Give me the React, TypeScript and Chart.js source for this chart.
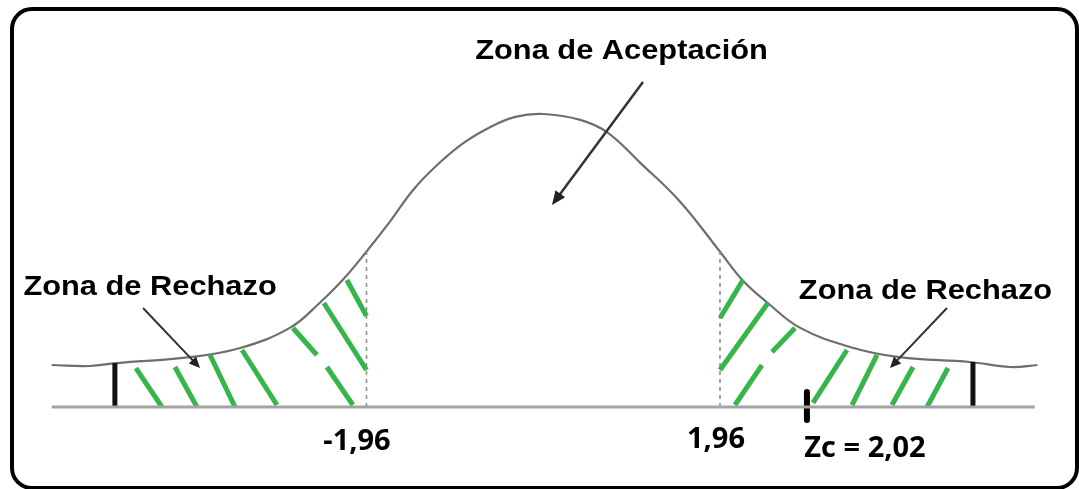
import React, { useEffect, useRef } from "react";
import { Chart, registerables } from "chart.js";

Chart.register(...registerables);

// Bell curve: [z, height]
const curveZ = [-5.45, -5.03, -4.73, -3.92, -3.36, -2.81, -2.48, -2.22, -1.955, -1.7, -1.445, -1.18, -0.89, -0.59, -0.31, 0, 0.41, 0.71, 1.07, 1.52, 1.96, 2.21, 2.49, 2.85, 3.4, 3.95, 4.73, 5.18, 5.48];
const curveY = [0.0573, 0.056, 0.06, 0.068, 0.0805, 0.108, 0.142, 0.174, 0.213, 0.253, 0.296, 0.33, 0.36, 0.382, 0.396, 0.4, 0.392, 0.375, 0.334, 0.28, 0.212, 0.173, 0.142, 0.108, 0.082, 0.068, 0.0614, 0.0546, 0.0573];

// Axis extent
const axisRange = [-5.45, 5.45];

// Critical values and their heights on the curve
const criticalZ = [-1.96, 1.96];
const criticalLabels = ["-1,96", "1,96"];
const criticalTop = [0.213, 0.212];

// Tail limit bars [z, top]
const tailBars = [
  [-4.75, 0.06],
  [4.765, 0.0614],
];

// Zc marker (diagram position) and label
const zcPos = 2.924;
const zcLabel = "Zc = 2,02";

// Hatch segments [z1, y1, z2, y2]
const leftHatch = [
  [-4.517, 0.0532, -4.228, 0],
  [-4.084, 0.0546, -3.84, 0],
  [-3.695, 0.071, -3.418, 0],
  [-3.34, 0.0778, -2.953, 0.0027],
  [-2.776, 0.1078, -2.51, 0.071],
  [-2.399, 0.0546, -2.111, 0.0027],
  [-2.433, 0.142, -1.96, 0.0505],
  [-2.178, 0.1734, -1.96, 0.1242],
];
const rightHatch = [
  [1.96, 0.1215, 2.215, 0.1734],
  [1.96, 0.0505, 2.492, 0.142],
  [2.537, 0.0751, 2.792, 0.1078],
  [2.126, 0.0027, 2.425, 0.0573],
  [2.991, 0.0055, 3.368, 0.0778],
  [3.424, 0.0027, 3.701, 0.071],
  [3.867, 0.0027, 4.1, 0.0546],
  [4.256, 0, 4.488, 0.0532],
];

// Annotations: arrows [fromZ, fromY, toZ, toY]
const arrows = [
  [1.106, 0.4437, 0.097, 0.2758],
  [-4.438, 0.1352, -3.806, 0.0532],
  [4.477, 0.1352, 3.845, 0.0532],
];
const zoneTitles = ["Zona de Aceptación", "Zona de Rechazo", "Zona de Rechazo"];
const zoneTitlePos = [
  [0.868, 0.4751],
  [-4.36, 0.1529],
  [4.239, 0.1474],
];
const numberLabelPos = [
  [-2.065, -0.0587],
  [1.916, -0.056],
  [3.568, -0.0683],
];

const X_MIN = -6.024;
const X_MAX = 5.941;
const Y_MIN = -0.11195;
const Y_MAX = 0.55563;

function seg(a: number[], color: string, width: number, extra: any = {}) {
  return {
    data: [
      { x: a[0], y: a[1] },
      { x: a[2], y: a[3] },
    ],
    showLine: true,
    borderColor: color,
    borderWidth: width,
    pointRadius: 0,
    ...extra,
  };
}

const diagramPlugin = {
  id: "diagram",
  afterDatasetsDraw(chart: any) {
    const ctx: CanvasRenderingContext2D = chart.ctx;
    const xs = chart.scales.x;
    const ys = chart.scales.y;
    const px = (v: number) => xs.getPixelForValue(v);
    const py = (v: number) => ys.getPixelForValue(v);

    // frame
    ctx.save();
    ctx.strokeStyle = "#000";
    ctx.lineWidth = 4;
    ctx.beginPath();
    ctx.roundRect(12, 9, 1065, 479, 20);
    ctx.stroke();
    ctx.restore();

    // arrows
    arrows.forEach((a, i) => {
      const x1 = px(a[0]), y1 = py(a[1]), x2 = px(a[2]), y2 = py(a[3]);
      const ang = Math.atan2(y2 - y1, x2 - x1);
      const hl = i === 0 ? 14 : 11;
      const hw = i === 0 ? 6 : 5;
      ctx.save();
      ctx.strokeStyle = "#333";
      ctx.fillStyle = "#222";
      ctx.lineWidth = i === 0 ? 2.5 : 2;
      ctx.beginPath();
      ctx.moveTo(x1, y1);
      ctx.lineTo(x2 - Math.cos(ang) * hl * 0.8, y2 - Math.sin(ang) * hl * 0.8);
      ctx.stroke();
      ctx.beginPath();
      ctx.moveTo(x2, y2);
      ctx.lineTo(x2 - Math.cos(ang) * hl - Math.sin(ang) * hw, y2 - Math.sin(ang) * hl + Math.cos(ang) * hw);
      ctx.lineTo(x2 - Math.cos(ang) * hl + Math.sin(ang) * hw, y2 - Math.sin(ang) * hl - Math.cos(ang) * hw);
      ctx.closePath();
      ctx.fill();
      ctx.restore();
    });

    // zone titles
    zoneTitles.forEach((t, i) => {
      ctx.save();
      ctx.fillStyle = "#000";
      ctx.font = 'bold 28px "Liberation Sans", Arial, sans-serif';
      ctx.textAlign = "center";
      ctx.textBaseline = "alphabetic";
      ctx.translate(px(zoneTitlePos[i][0]), py(zoneTitlePos[i][1]));
      ctx.scale(1.1, 1);
      ctx.fillText(t, 0, 0);
      ctx.restore();
    });

    // number labels
    const nums = [criticalLabels[0], criticalLabels[1], zcLabel];
    nums.forEach((t, i) => {
      ctx.save();
      ctx.fillStyle = "#000";
      ctx.font = 'bold 29px "Open Sans", sans-serif';
      ctx.textAlign = "center";
      ctx.textBaseline = "alphabetic";
      ctx.fillText(t, px(numberLabelPos[i][0]), py(numberLabelPos[i][1]));
      ctx.restore();
    });
  },
};

export default function App() {
  const ref = useRef<HTMLCanvasElement>(null);

  useEffect(() => {
    if (!ref.current) return;
    const green = "#35b54a";
    const datasets: any[] = [];
    // axis baseline
    datasets.push(seg([axisRange[0], 0, axisRange[1], 0], "#a3a3a3", 3));
    // hatches
    leftHatch.forEach((h) => datasets.push(seg(h, green, 5)));
    rightHatch.forEach((h) => datasets.push(seg(h, green, 5)));
    // dashed critical lines
    criticalZ.forEach((z, i) =>
      datasets.push(seg([z, 0, z, criticalTop[i]], "#8a8a8a", 1.5, { borderDash: [4, 4] }))
    );
    // tail bars
    tailBars.forEach((b) => datasets.push(seg([b[0], 0, b[0], b[1]], "#111", 5)));
    // curve
    datasets.push({
      data: curveZ.map((z, i) => ({ x: z, y: curveY[i] })),
      showLine: true,
      borderColor: "#6e6e6e",
      borderWidth: 2.2,
      pointRadius: 0,
      tension: 0.4,
    });
    // Zc marker
    datasets.push(seg([zcPos, 0.0205, zcPos, -0.0177], "#000", 6, { borderCapStyle: "round" }));

    const chart = new Chart(ref.current, {
      type: "scatter",
      data: { datasets },
      options: {
        responsive: false,
        animation: false,
        devicePixelRatio: 1,
        layout: { padding: 0 },
        plugins: { legend: { display: false }, tooltip: { enabled: false }, title: { display: false } },
        scales: {
          x: { type: "linear", min: X_MIN, max: X_MAX, display: false },
          y: { type: "linear", min: Y_MIN, max: Y_MAX, display: false },
        },
      },
      plugins: [diagramPlugin],
    });
    return () => chart.destroy();
  }, []);

  return (
    <div style={{ position: "absolute", left: 0, top: 0, width: 1079, height: 489, background: "#fff" }}>
      <canvas ref={ref} width={1079} height={489} style={{ display: "block" }} />
    </div>
  );
}
